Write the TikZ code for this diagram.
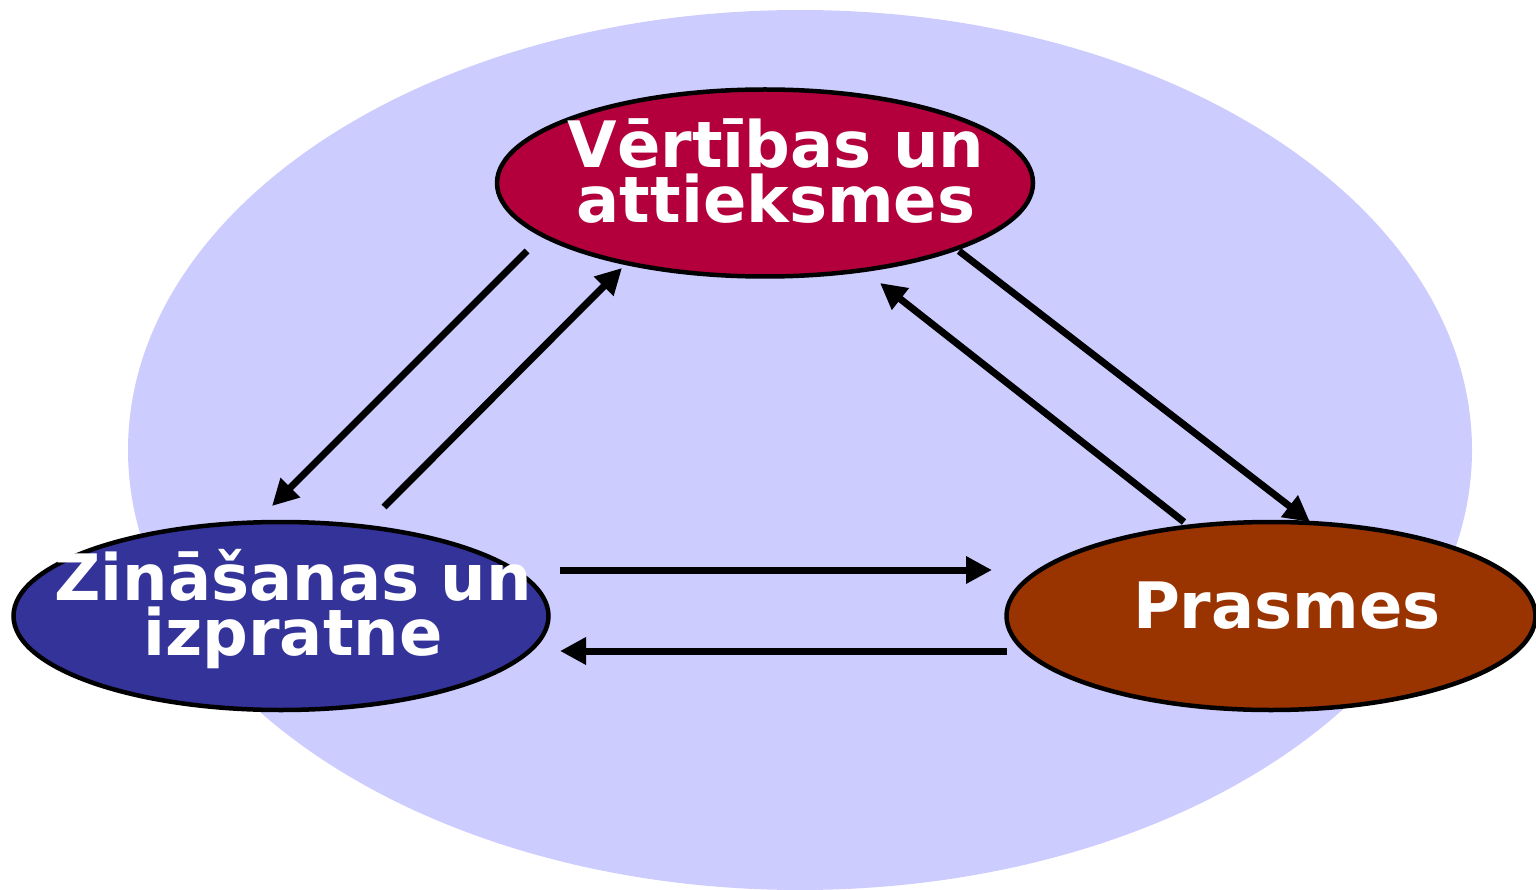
\documentclass[tikz,border=0pt]{standalone}
\usepackage{fontspec}
\setmainfont{DejaVu Sans}
\usetikzlibrary{arrows.meta,shapes.geometric}
\definecolor{bgblue}{RGB}{204,204,255}
\definecolor{wine}{RGB}{179,0,60}
\definecolor{navy}{RGB}{51,51,153}
\definecolor{rust}{RGB}{153,51,0}
\tikzset{
  blob/.style={ellipse, draw=black, line width=4.5pt, inner sep=0pt},
  lbl/.style={text=white, font=\bfseries\fontsize{64}{55}\selectfont, align=center, inner sep=0pt},
  conn/.style={line width=7pt, -{Triangle[length=26pt,width=26pt]}}
}
\begin{document}
\begin{tikzpicture}[x=1pt,y=-1pt]
\useasboundingbox (0,0) rectangle (1536,890);
\node[ellipse, fill=bgblue, minimum width=1344pt, minimum height=880pt, inner sep=0pt] (bg) at (800,450) {};
\node[blob, fill=wine, minimum width=536pt, minimum height=187pt] (top) at (765,183) {};
\node[blob, fill=navy, minimum width=535pt, minimum height=188pt] (left) at (281,616) {};
\node[blob, fill=rust, minimum width=529pt, minimum height=188pt] (right) at (1271,616) {};
\node[lbl, text width=500pt, anchor=base] (tt) at (776,168) {Vērtības un\\attieksmes};
\node[lbl, text width=520pt, anchor=base] (lt) at (293,600) {Zināšanas un\\izpratne};
\node[lbl, anchor=base] (rt) at (1287,628) {Prasmes};
\coordinate (a1s) at (527,251); \coordinate (a1e) at (272,506);
\coordinate (a2s) at (384,507); \coordinate (a2e) at (622,268);
\coordinate (a3s) at (959,251); \coordinate (a3e) at (1310,522);
\coordinate (a4s) at (1184,522); \coordinate (a4e) at (880,283);
\coordinate (a5s) at (560,570); \coordinate (a5e) at (992,570);
\coordinate (a6s) at (1007,651); \coordinate (a6e) at (560,651);
\draw[conn] (a1s) -- (a1e);
\draw[conn] (a2s) -- (a2e);
\draw[conn] (a3s) -- (a3e);
\draw[conn] (a4s) -- (a4e);
\draw[conn] (a5s) -- (a5e);
\draw[conn] (a6s) -- (a6e);
\end{tikzpicture}
\end{document}
